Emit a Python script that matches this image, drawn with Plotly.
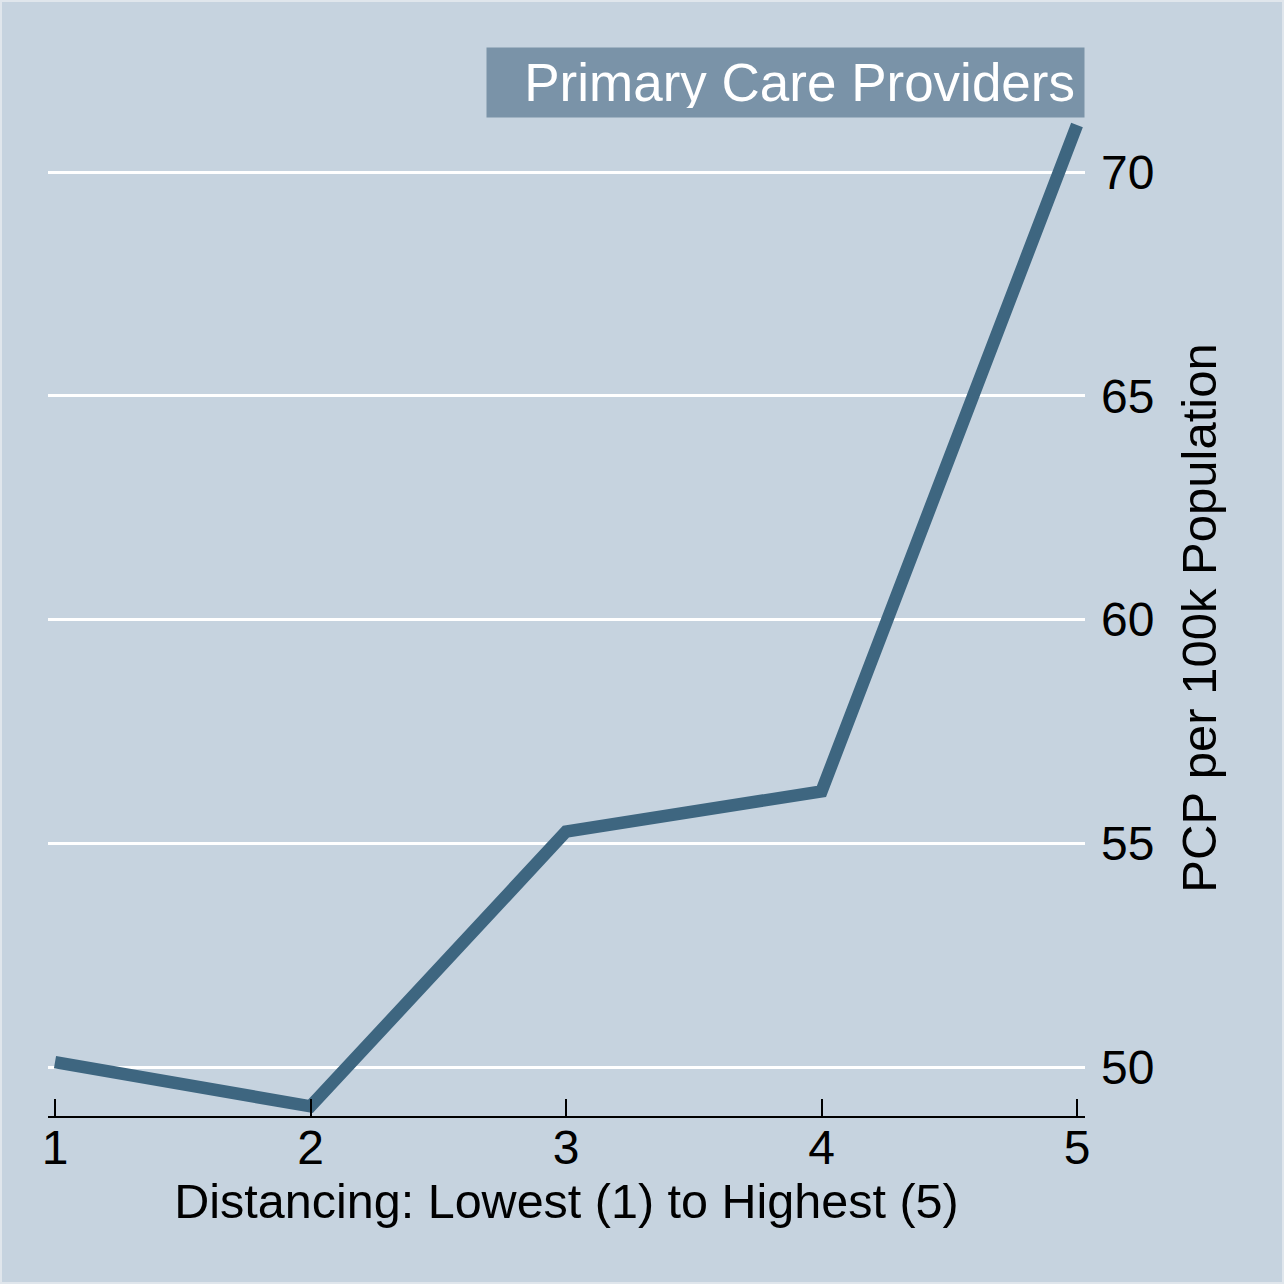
import plotly.graph_objects as go

# distancing quintile vs primary care providers per 100k
quintile = [1, 2, 3, 4, 5]
pcp_rate = [50.11, 49.12, 55.26, 56.16, 71.05]
y_ticks = [50, 55, 60, 65, 70]

bg = '#c6d3df'
line_col = '#3e6680'
box_col = '#7a93a8'
font_family = 'Liberation Sans, Arial, Helvetica, sans-serif'

W, H = 1284, 1284
ml, mr, mt, mb = 48, 199, 120, 168
pw, ph = W - ml - mr, H - mt - mb

fig = go.Figure()
fig.add_trace(
    go.Scatter(
        x=quintile,
        y=pcp_rate,
        mode='lines',
        line=dict(color=line_col, width=12.5),
        showlegend=False,
    ))

fig.update_layout(
    width=W, height=H,
    margin=dict(l=ml, r=mr, t=mt, b=mb),
    paper_bgcolor=bg,
    plot_bgcolor=bg,
    font=dict(family=font_family, size=48, color='black'),
)

fig.update_xaxes(
    range=[0.9726, 5.0313],
    tickvals=quintile,
    showgrid=False, zeroline=False,
    showline=True, linecolor='black', linewidth=2,
    ticks='inside', ticklen=17, tickwidth=2, tickcolor='black',
    tickfont=dict(size=48),
    ticklabelstandoff=-12,
    title=dict(text='Distancing: Lowest (1) to Highest (5)', font=dict(size=48.5), standoff=6),
)

fig.update_yaxes(
    range=[48.905, 71.162],
    side='right',
    tickvals=y_ticks,
    showgrid=True, gridcolor='white', gridwidth=3,
    zeroline=False, showline=False, ticks='',
    ticklabelstandoff=15,
    tickfont=dict(size=48),
    title=dict(text='PCP per 100k Population', font=dict(size=49), standoff=28),
)

fig.add_annotation(
    text='Primary Care Providers',
    xref='paper', yref='paper',
    x=1.0, y=(H - mb - 47) / ph,
    xanchor='right', yanchor='top',
    width=579, height=51, borderpad=9,
    align='right', valign='middle',
    bgcolor=box_col,
    showarrow=False,
    font=dict(size=53, color='white'),
)

# light frame around the whole graph region
fig.add_shape(
    type='rect', xref='paper', yref='paper',
    x0=-ml / pw, x1=(W - ml) / pw, y0=-mb / ph, y1=(H - mb) / ph,
    line=dict(color='#e0e6ec', width=4), layer='below',
)

# drop the default page margin so the graph sits flush in the window
fig.write_html("out.html", config={'displayModeBar': False},
               post_script="document.body.style.margin='0';")
